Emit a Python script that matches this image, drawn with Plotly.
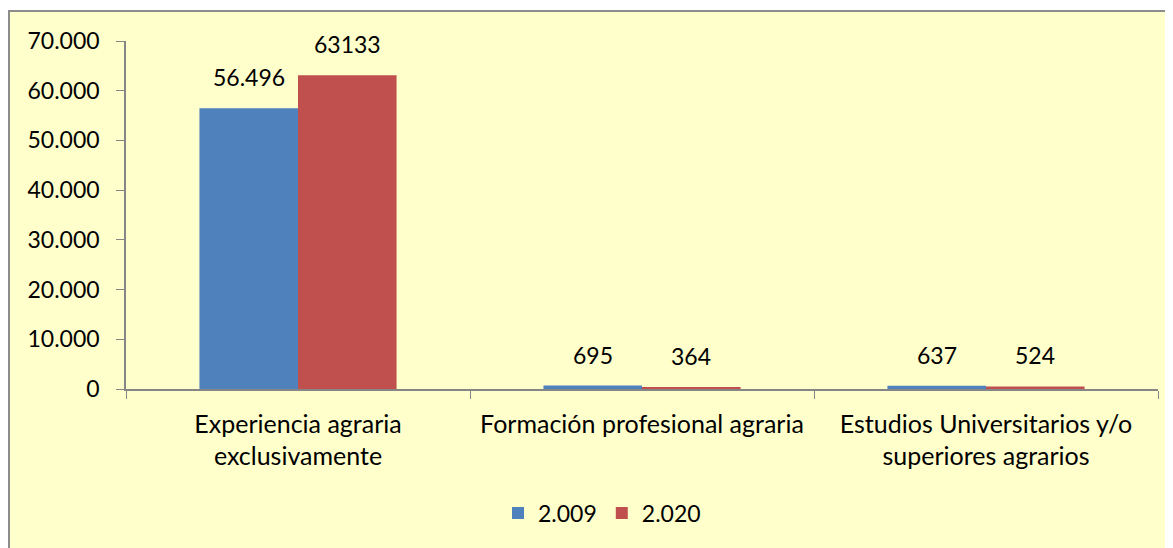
import plotly.graph_objects as go

categories = ["Experiencia agraria<br>exclusivamente", "Formación profesional agraria",
              "Estudios Universitarios y/o<br>superiores agrarios"]
series_names = ["2.009", "2.020"]
values_2009 = [56496, 695, 637]
values_2020 = [63133, 364, 524]
labels_2009 = ["56.496", "695", "637"]
labels_2020 = ["63133", "364", "524"]
y_ticks = [0, 10000, 20000, 30000, 40000, 50000, 60000, 70000]
colors = ["#4F81BD", "#C0504D"]

FONT = "Lato"
OFF = 8  # page body margin
W, H = 1173, 548
# plot area in page coordinates: x 126..1158, y 41..389
L = 126 - OFF
T = 41 - OFF
R = W - (1158 - OFF)
B = H - (389 - OFF)
pw, ph = W - L - R, H - T - B

def px_x(p):
    return (p - OFF - L) / pw
def px_y(p):
    return (H - B - (p - OFF)) / ph

BARGAP = 0.427
bar_px = pw / 3 * (1 - BARGAP) / 2

fig = go.Figure()
for name, vals, labs, col, sgn in [(series_names[0], values_2009, labels_2009, colors[0], -1),
                                   (series_names[1], values_2020, labels_2020, colors[1], 1)]:
    fig.add_trace(go.Bar(x=categories, y=vals, name=name,
                         marker=dict(color=col, line=dict(width=0))))
    for c, v, t in zip(categories, vals, labs):
        fig.add_annotation(x=c, y=v, text=t, showarrow=False, xref="x", yref="y",
                           xshift=sgn * bar_px / 2, yshift=15, yanchor="bottom",
                           font=dict(size=23, family=FONT, color="black"))

fig.add_shape(type="rect", xref="paper", yref="paper", layer="below",
              x0=px_x(9), x1=px_x(1195), y0=px_y(570), y1=px_y(11),
              fillcolor="#FFFFCC", line=dict(color="#8C8C8C", width=2))

fig.update_layout(
    width=W, height=H,
    margin=dict(l=L, r=R, t=T, b=B, autoexpand=False),
    paper_bgcolor="white", plot_bgcolor="rgba(0,0,0,0)",
    barmode="group", bargap=BARGAP, bargroupgap=0,
    separators=",.",
    font=dict(family=FONT, size=23, color="black"),
    showlegend=True,
    legend=dict(orientation="h", x=px_x(602), xanchor="center", y=px_y(513), yanchor="middle",
                font=dict(size=23, family=FONT), bgcolor="rgba(0,0,0,0)"),
)
fig.update_xaxes(showline=True, linecolor="#868686", linewidth=1.5, ticks="outside",
                 tickson="boundaries", ticklen=8, tickcolor="#868686", showgrid=False,
                 tickfont=dict(size=25, family=FONT), ticklabelstandoff=12)
fig.update_yaxes(range=[0, 70000], tickvals=y_ticks, tickformat=",d", showline=True,
                 linecolor="#868686", linewidth=1.5, ticks="outside", ticklen=8,
                 tickcolor="#868686", showgrid=False, zeroline=False,
                 tickfont=dict(size=23, family=FONT), ticklabelstandoff=12)

fig.write_html("out.html")
